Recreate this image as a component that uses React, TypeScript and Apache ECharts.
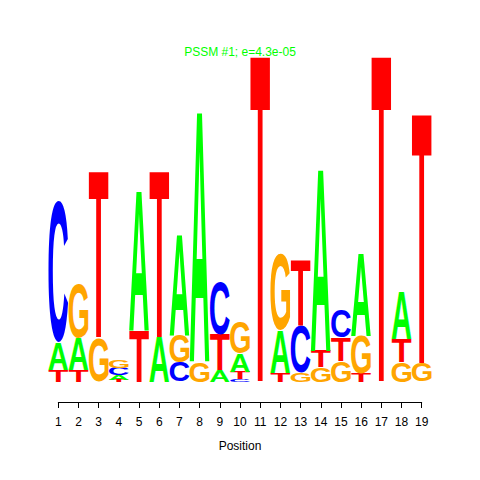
import React, { useEffect, useRef } from "react";
import * as echarts from "echarts";

// ---- data (letter heights per position, in bits-like units) ----
const positions = [1, 2, 3, 4, 5, 6, 7, 8, 9, 10, 11, 12, 13, 14, 15, 16, 17, 18, 19];
const heightA = [0.26, 0.32, 0, 0.05, 1.38, 0.44, 1.0, 2.49, 0.12, 0.18, 0, 0.42, 0, 1.81, 0, 0.82, 0, 0.48, 0];
const heightC = [1.4, 0, 0, 0.07, 0, 0, 0.2, 0, 0.52, 0.03, 0, 0, 0.47, 0, 0.27, 0, 0, 0, 0];
const heightG = [0, 0.54, 0.44, 0.08, 0, 0, 0.27, 0.2, 0, 0.32, 0, 0.76, 0.09, 0.15, 0.21, 0.38, 0, 0.2, 0.18];
const heightT = [0.12, 0.12, 1.65, 0.02, 0.52, 1.65, 0, 0, 0.35, 0.07, 3.25, 0.09, 0.65, 0.16, 0.23, 0.08, 3.25, 0.23, 2.49];
const letters = ["A", "C", "G", "T"];
const xTickLabels = positions.map((p) => String(p));
const titleText = "PSSM #1; e=4.3e-05";
const xAxisName = "Position";

const letterColors = ["#00ff00", "#0000ff", "#ffa500", "#ff0000"];
const FONT_FAMILY = '"Liberation Sans", Arial, sans-serif';
const LETTER_FONT = "bold 1000px " + FONT_FAMILY;
// empirical correction between canvas ink metrics and SVG glyph rendering (font units at 1000px)
const ASC_CORR = -14;
const DESC_CORR = 2;

type M = { asc: number; desc: number; left: number; right: number };

function measureLetters(): M[] {
  const fallback: M[] = [
    { asc: 356, desc: 348, left: 0, right: 720 },
    { asc: 366, desc: 360, left: -40, right: 680 },
    { asc: 366, desc: 360, left: -40, right: 730 },
    { asc: 356, desc: 348, left: -20, right: 590 },
  ];
  try {
    const c = document.createElement("canvas");
    const ctx = c.getContext("2d");
    if (!ctx) return fallback;
    ctx.font = LETTER_FONT;
    ctx.textAlign = "left";
    ctx.textBaseline = "alphabetic";
    return letters.map((l, i) => {
      const m = ctx.measureText(l) as any;
      if (m.actualBoundingBoxAscent === undefined || m.fontBoundingBoxAscent === undefined) return fallback[i];
      // SVG dominant-baseline "central": midway between font ascent and descent
      const central = (m.fontBoundingBoxAscent - m.fontBoundingBoxDescent) / 2;
      return {
        asc: m.actualBoundingBoxAscent - central + ASC_CORR,
        desc: m.actualBoundingBoxDescent + central + DESC_CORR,
        left: m.actualBoundingBoxLeft,
        right: m.actualBoundingBoxRight,
      };
    });
  } catch (e) {
    return fallback;
  }
}

function buildStacks(): number[][] {
  const all = [heightA, heightC, heightG, heightT];
  const out: number[][] = [];
  positions.forEach((p, i) => {
    const items = letters
      .map((_, li) => ({ li, v: all[li][i] }))
      .filter((d) => d.v > 0)
      .sort((a, b) => a.v - b.v);
    let base = 0;
    items.forEach((d) => {
      out.push([p, base, base + d.v, d.li]);
      base += d.v;
    });
  });
  return out;
}

export default function App() {
  const ref = useRef<HTMLDivElement>(null);
  useEffect(() => {
    if (!ref.current) return;
    const chart = echarts.init(ref.current, undefined, { renderer: "svg" });
    const metrics = measureLetters();
    const data = buildStacks();
    chart.setOption({
      animation: false,
      backgroundColor: "#ffffff",
      title: {
        text: titleText,
        left: "center",
        top: 41,
        textStyle: { color: "#00ff00", fontSize: 12, fontWeight: "normal", fontFamily: FONT_FAMILY },
      },
      grid: { left: 58.3, right: 58.3, top: 32, bottom: 98, containLabel: false },
      xAxis: {
        type: "value",
        min: 1,
        max: 19,
        interval: 1,
        offset: 20,
        name: xAxisName,
        nameLocation: "middle",
        nameGap: 38,
        nameTextStyle: { color: "#000", fontSize: 12, fontFamily: FONT_FAMILY },
        splitLine: { show: false },
        axisLine: { show: true, onZero: false, lineStyle: { color: "#000", width: 1 } },
        axisTick: { show: true, length: 6, lineStyle: { color: "#000" } },
        axisLabel: {
          margin: 14,
          color: "#000",
          fontSize: 12,
          fontFamily: FONT_FAMILY,
          formatter: (v: number) => xTickLabels[Math.round(v) - 1] ?? "",
        },
      },
      yAxis: { type: "value", min: 0, max: 3.5, show: false },
      series: [
        {
          type: "custom",
          clip: false,
          silent: true,
          encode: { x: 0, y: [1, 2] },
          data,
          renderItem: (_params: any, api: any) => {
            const x = api.value(0);
            const y0 = api.value(1);
            const y1 = api.value(2);
            const li = api.value(3);
            const p0 = api.coord([x - 0.5, y1]);
            const p1 = api.coord([x + 0.5, y0]);
            const m = metrics[li];
            const w = p1[0] - p0[0];
            const h = p1[1] - p0[1];
            const sx = w / (m.left + m.right);
            const sy = h / (m.asc + m.desc);
            return {
              type: "text",
              x: p0[0] + m.left * sx,
              y: p0[1] + m.asc * sy,
              scaleX: sx,
              scaleY: sy,
              style: {
                text: letters[li],
                font: LETTER_FONT,
                fill: letterColors[li],
                align: "left",
                verticalAlign: "middle",
              },
            };
          },
        },
      ],
    });
    return () => chart.dispose();
  }, []);
  return <div ref={ref} style={{ position: "fixed", left: 0, top: 0, width: 480, height: 480 }} />;
}
